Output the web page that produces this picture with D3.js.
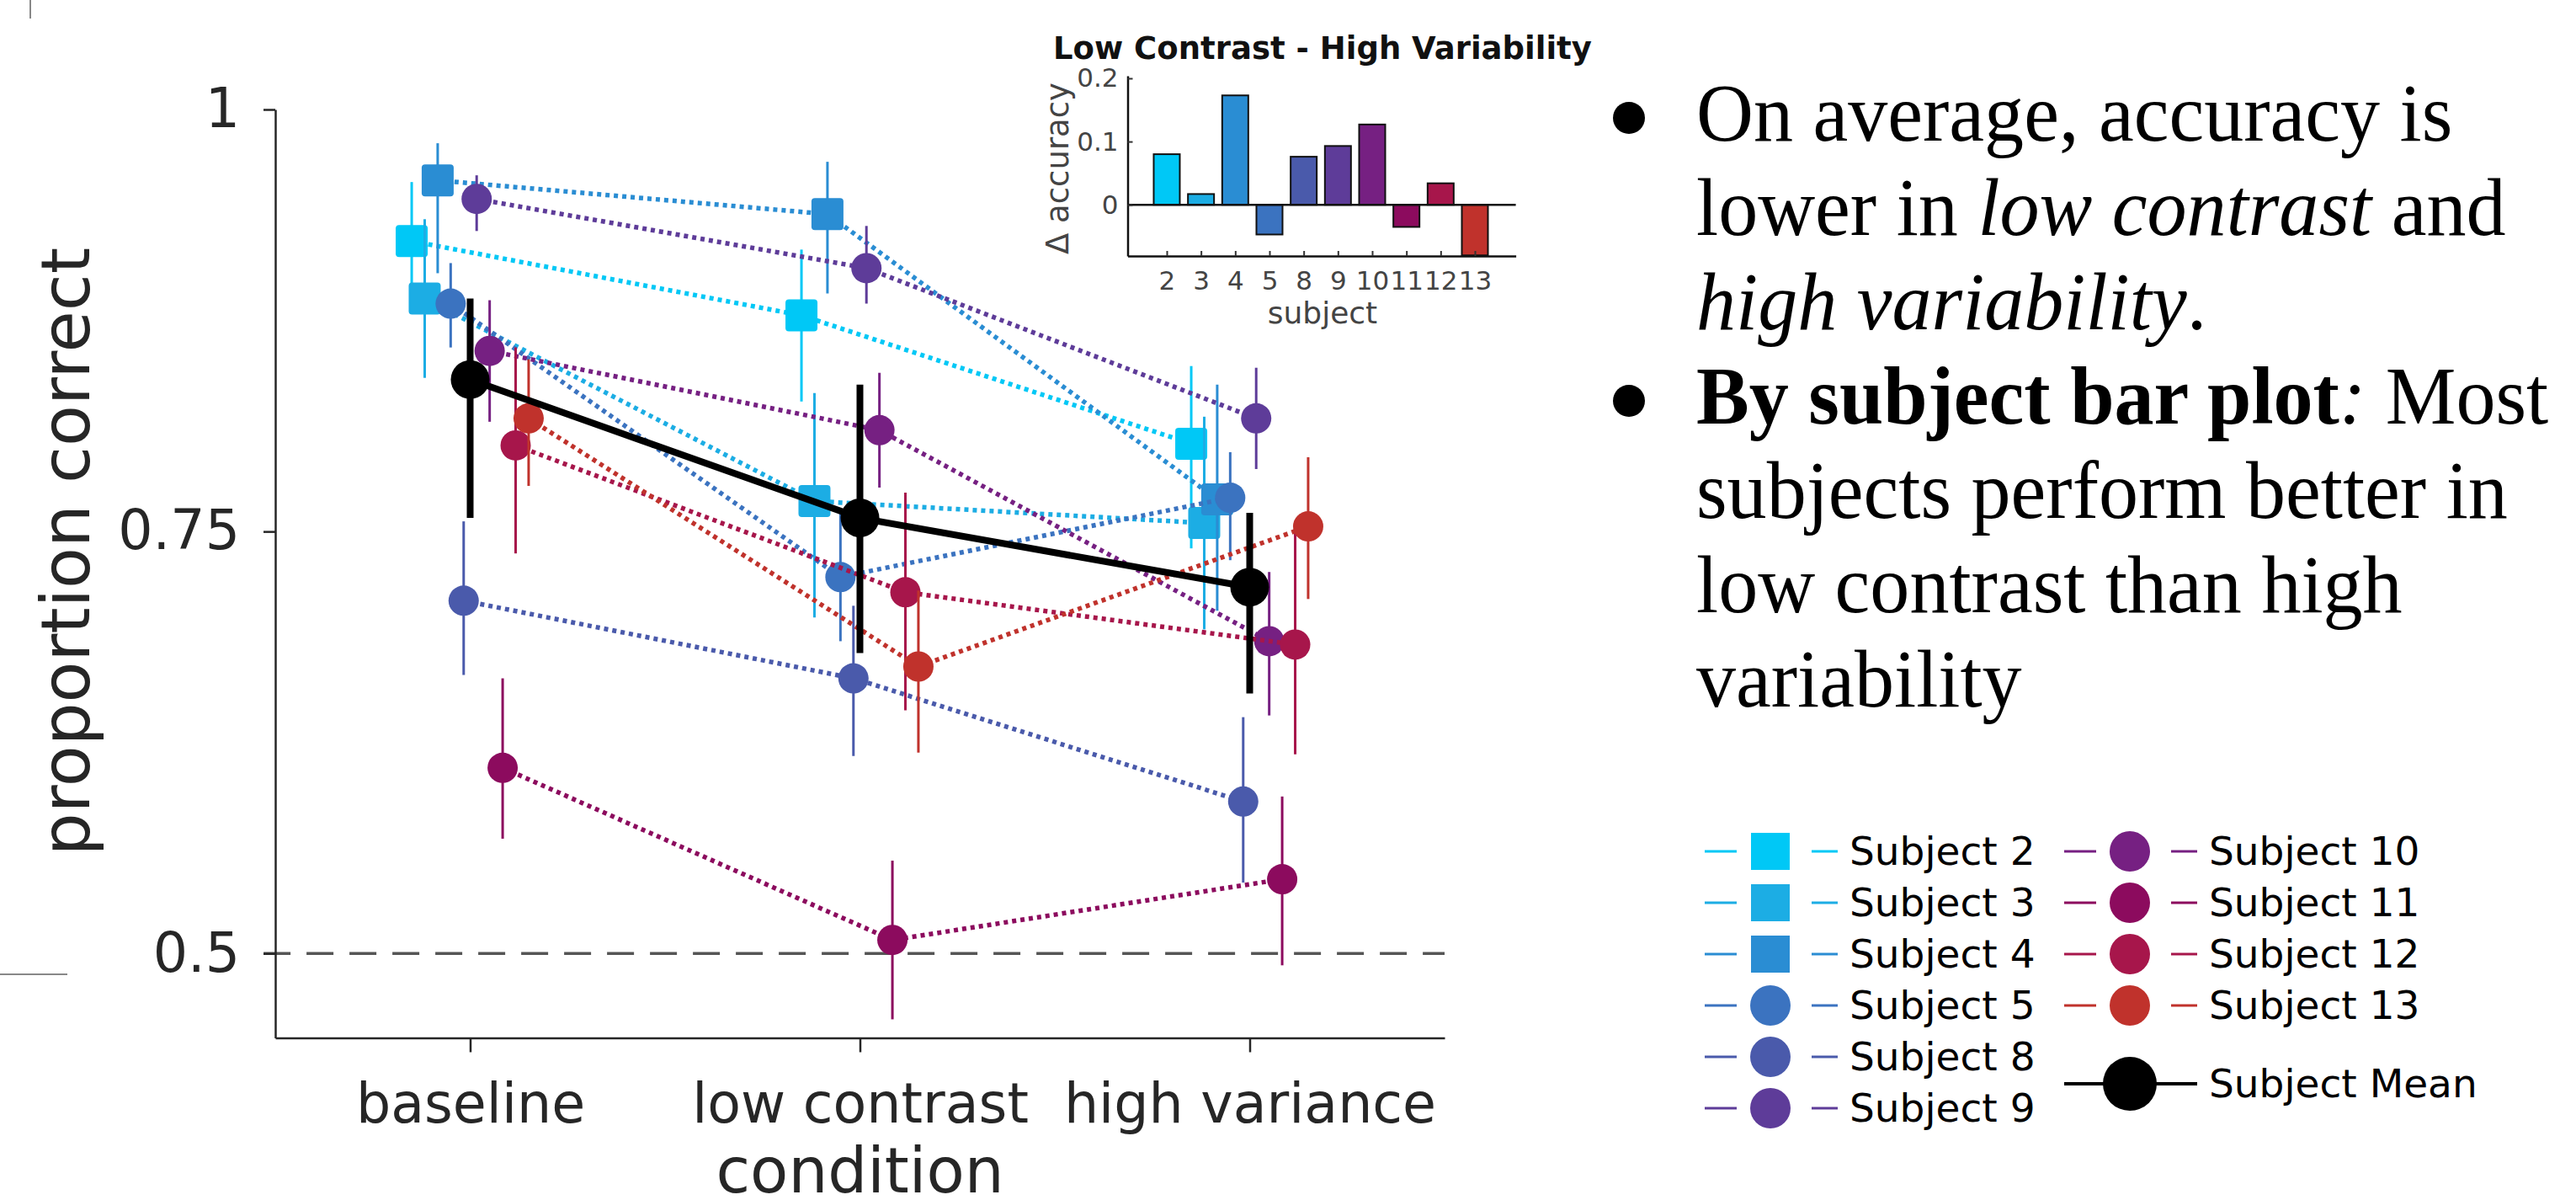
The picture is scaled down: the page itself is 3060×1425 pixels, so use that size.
<!DOCTYPE html>
<html>
<head>
<meta charset="utf-8">
<script src="https://cdn.jsdelivr.net/npm/d3@7"></script>
<style>
  body { margin: 0; background: #fff; }
  svg { display: block; font-family: "DejaVu Sans", sans-serif; }
  text { white-space: pre; }
</style>
</head>
<body>
<svg id="chart" width="3060" height="1425"></svg>
<script>
// conditions on the main x axis
const conditions = ['baseline', 'low contrast', 'high variance'];

const subjects = ['Subject 2', 'Subject 3', 'Subject 4', 'Subject 5', 'Subject 8',
  'Subject 9', 'Subject 10', 'Subject 11', 'Subject 12', 'Subject 13'];
const subjectColors = ['#00c8f6', '#1cade4', '#2a8dd3', '#3b73c0', '#4a5aab',
  '#5e3c99', '#762082', '#8c0b5e', '#a7164b', '#c0322c'];
const subjectShapes = ['square', 'square', 'square', 'circle', 'circle',
  'circle', 'circle', 'circle', 'circle', 'circle'];

// proportion correct per subject: [baseline, low contrast, high variance]
const accuracy = [
  [0.922, 0.878, 0.802],
  [0.888, 0.768, 0.755],
  [0.958, 0.938, 0.769],
  [0.885, 0.723, 0.770],
  [0.709, 0.663, 0.590],
  [0.947, 0.906, 0.817],
  [0.857, 0.810, 0.685],
  [0.610, 0.508, 0.544],
  [0.801, 0.714, 0.683],
  [0.817, 0.670, 0.753]
];
// lower / upper ends of the error bars
const accuracyLow = [
  [0.887, 0.827, 0.740],
  [0.841, 0.699, 0.692],
  [0.903, 0.891, 0.703],
  [0.859, 0.685, 0.733],
  [0.665, 0.617, 0.542],
  [0.928, 0.885, 0.787],
  [0.815, 0.776, 0.641],
  [0.568, 0.461, 0.493],
  [0.737, 0.644, 0.618],
  [0.777, 0.619, 0.710]
];
const accuracyHigh = [
  [0.957, 0.917, 0.848],
  [0.935, 0.832, 0.818],
  [0.980, 0.969, 0.837],
  [0.909, 0.761, 0.797],
  [0.756, 0.706, 0.640],
  [0.961, 0.931, 0.847],
  [0.887, 0.844, 0.726],
  [0.663, 0.555, 0.593],
  [0.859, 0.773, 0.752],
  [0.852, 0.715, 0.794]
];

const meanAccuracy = [0.840, 0.758, 0.717];
const meanLow = [0.758, 0.678, 0.654];
const meanHigh = [0.888, 0.837, 0.761];

const yTicks = [0.5, 0.75, 1];
const yTickLabels = ['0.5', '0.75', '1'];

// inset: low contrast minus high variability
const insetSubjects = ['2', '3', '4', '5', '8', '9', '10', '11', '12', '13'];
const deltaAccuracy = [0.080, 0.017, 0.173, -0.047, 0.076, 0.093, 0.127, -0.035, 0.034, -0.080];
const insetTicks = [0, 0.1, 0.2];
const insetTickLabels = ['0', '0.1', '0.2'];

const notes = [
  { bullet: true, parts: [['On average, accuracy is', 'normal']] },
  { parts: [['lower in ', 'normal'], ['low contrast', 'italic'], [' and', 'normal']] },
  { parts: [['high variability', 'italic'], ['.', 'normal']] },
  { bullet: true, parts: [['By subject bar plot', 'bold'], [':', 'italic'], [' Most', 'normal']] },
  { parts: [['subjects perform better in', 'normal']] },
  { parts: [['low contrast than high', 'normal']] },
  { parts: [['variability', 'normal']] }
];

const svg = d3.select('#chart');
svg.append('rect').attr('width', 3060).attr('height', 1425).attr('fill', '#fff');

// slide edge marks
svg.append('line').attr('x1', 36).attr('x2', 36).attr('y1', 0).attr('y2', 22)
  .attr('stroke', '#888').attr('stroke-width', 2);
svg.append('line').attr('x1', 0).attr('x2', 80).attr('y1', 1157).attr('y2', 1157)
  .attr('stroke', '#888').attr('stroke-width', 2);

// ---------- main chart ----------
const x = d3.scaleLinear().domain([0.5, 3.5]).range([327, 1716]);
const y = d3.scaleLinear().domain([0.45, 1]).range([1232.5, 130]);
const jitter = d3.scaleLinear().domain([0, subjects.length - 1]).range([-0.15, 0.15]);

// chance level
svg.append('line')
  .attr('x1', x(0.47)).attr('x2', x(3.5))
  .attr('y1', y(0.5)).attr('y2', y(0.5))
  .attr('stroke', '#555').attr('stroke-width', 3.5)
  .attr('stroke-dasharray', '32 19');

const yAxis = svg.append('g')
  .attr('transform', `translate(${x(0.5)},0)`)
  .call(d3.axisLeft(y).tickValues(yTicks).tickFormat((d, i) => yTickLabels[i])
    .tickSize(14).tickPadding(28).tickSizeOuter(0));

const xAxis = svg.append('g')
  .attr('transform', `translate(0,${y(0.45)})`)
  .call(d3.axisBottom(x).tickValues([1, 2, 3]).tickFormat(d => conditions[d - 1])
    .tickSize(17).tickPadding(37).tickSizeOuter(0));

[yAxis, xAxis].forEach(g => {
  g.select('.domain').attr('stroke', '#262626').attr('stroke-width', 2.5);
  g.selectAll('.tick line').attr('stroke', '#262626').attr('stroke-width', 2.5);
  g.selectAll('.tick text').attr('fill', '#262626')
    .attr('font-family', '"DejaVu Sans", sans-serif').attr('font-size', 65);
});

svg.append('text')
  .attr('transform', `translate(106,655) rotate(-90)`)
  .attr('text-anchor', 'middle')
  .attr('font-size', 80).attr('fill', '#262626')
  .text('proportion correct');

svg.append('text')
  .attr('x', x(2)).attr('y', 1416)
  .attr('text-anchor', 'middle')
  .attr('font-size', 74).attr('fill', '#262626')
  .text('condition');

const line = d3.line()
  .x(d => x(d.cond + 1 + d.off))
  .y(d => y(d.v));

subjects.forEach((name, i) => {
  const color = subjectColors[i];
  const pts = accuracy[i].map((v, j) => ({
    cond: j, off: jitter(i), v, lo: accuracyLow[i][j], hi: accuracyHigh[i][j]
  }));
  const g = svg.append('g');

  g.append('path')
    .attr('d', line(pts))
    .attr('fill', 'none')
    .attr('stroke', color)
    .attr('stroke-width', 5.5)
    .attr('stroke-dasharray', '5 5');

  g.selectAll('line.err')
    .data(pts)
    .enter()
    .append('line')
    .attr('class', 'err')
    .attr('x1', d => x(d.cond + 1 + d.off))
    .attr('x2', d => x(d.cond + 1 + d.off))
    .attr('y1', d => y(d.lo))
    .attr('y2', d => y(d.hi))
    .attr('stroke', color)
    .attr('stroke-width', 3);

  if (subjectShapes[i] === 'square') {
    g.selectAll('rect.mk')
      .data(pts)
      .enter()
      .append('rect')
      .attr('class', 'mk')
      .attr('x', d => x(d.cond + 1 + d.off) - 19)
      .attr('y', d => y(d.v) - 19)
      .attr('width', 38)
      .attr('height', 38)
      .attr('rx', 4)
      .attr('fill', color);
  } else {
    g.selectAll('circle.mk')
      .data(pts)
      .enter()
      .append('circle')
      .attr('class', 'mk')
      .attr('cx', d => x(d.cond + 1 + d.off))
      .attr('cy', d => y(d.v))
      .attr('r', 18)
      .attr('fill', color);
  }
});

// subject mean
const meanPts = meanAccuracy.map((v, j) => ({ cond: j, off: 0, v, lo: meanLow[j], hi: meanHigh[j] }));
const mg = svg.append('g');
mg.append('path')
  .attr('d', line(meanPts))
  .attr('fill', 'none')
  .attr('stroke', '#000')
  .attr('stroke-width', 8);
mg.selectAll('line.err')
  .data(meanPts)
  .enter()
  .append('line')
  .attr('x1', d => x(d.cond + 1))
  .attr('x2', d => x(d.cond + 1))
  .attr('y1', d => y(d.lo))
  .attr('y2', d => y(d.hi))
  .attr('stroke', '#000')
  .attr('stroke-width', 8);
mg.selectAll('circle')
  .data(meanPts)
  .enter()
  .append('circle')
  .attr('cx', d => x(d.cond + 1))
  .attr('cy', d => y(d.v))
  .attr('r', 23)
  .attr('fill', '#000');

// ---------- inset bar chart ----------
const xi = d3.scaleLinear().domain([-0.143, 11.195]).range([1339.5, 1800.6]);
const yi = d3.scaleLinear().domain([-0.081, 0.204]).range([304, 90]);
const inset = svg.append('g');

inset.selectAll('rect')
  .data(deltaAccuracy)
  .enter()
  .append('rect')
  .attr('x', (d, i) => xi(i + 1) - 15.5)
  .attr('y', d => yi(Math.max(0, d)))
  .attr('width', 31)
  .attr('height', d => Math.abs(yi(d) - yi(0)))
  .attr('fill', (d, i) => subjectColors[i])
  .attr('stroke', '#111')
  .attr('stroke-width', 2);

inset.append('line')
  .attr('x1', xi.range()[0]).attr('x2', xi.range()[1])
  .attr('y1', yi(0)).attr('y2', yi(0))
  .attr('stroke', '#111').attr('stroke-width', 2.5);

const iy = inset.append('g')
  .attr('transform', `translate(${xi.range()[0]},0)`)
  .call(d3.axisLeft(yi).tickValues(insetTicks).tickFormat((d, i) => insetTickLabels[i])
    .tickSize(-6).tickPadding(11).tickSizeOuter(0));
const ix = inset.append('g')
  .attr('transform', `translate(0,${yi.range()[0]})`)
  .call(d3.axisBottom(xi).tickValues(d3.range(1, 11)).tickFormat(d => insetSubjects[d - 1])
    .tickSize(-6).tickPadding(18).tickSizeOuter(0));
[iy, ix].forEach(g => {
  g.select('.domain').attr('stroke', '#111').attr('stroke-width', 2.5);
  g.selectAll('.tick line').attr('stroke', '#333').attr('stroke-width', 2);
  g.selectAll('.tick text').attr('fill', '#444')
    .attr('font-family', '"DejaVu Sans", sans-serif').attr('font-size', 31);
});

inset.append('text')
  .attr('x', 1571).attr('y', 70)
  .attr('text-anchor', 'middle')
  .attr('font-size', 37).attr('font-weight', 'bold').attr('fill', '#111')
  .text('Low Contrast - High Variability');
inset.append('text')
  .attr('transform', 'translate(1269,200) rotate(-90)')
  .attr('text-anchor', 'middle')
  .attr('font-size', 37).attr('fill', '#444')
  .text('Δ accuracy');
inset.append('text')
  .attr('x', 1571).attr('y', 384)
  .attr('text-anchor', 'middle')
  .attr('font-size', 36).attr('fill', '#444')
  .text('subject');

// ---------- legend ----------
const legendItems = subjects.map((name, i) => ({
  name, color: subjectColors[i], shape: subjectShapes[i],
  col: i < 6 ? 0 : 1, row: i < 6 ? i : i - 6
}));
const colX = [2103, 2530];
const rowY = k => 1011 + k * 61;
const legend = svg.append('g');

legendItems.forEach(it => {
  const cx = colX[it.col], cy = rowY(it.row);
  const g = legend.append('g');
  [[-78, -40], [49, 80]].forEach(([a, b]) => {
    g.append('line').attr('x1', cx + a).attr('x2', cx + b)
      .attr('y1', cy).attr('y2', cy)
      .attr('stroke', it.color).attr('stroke-width', 3);
  });
  if (it.shape === 'square') {
    g.append('rect').attr('x', cx - 23).attr('y', cy - 22)
      .attr('width', 46).attr('height', 44).attr('fill', it.color);
  } else {
    g.append('circle').attr('cx', cx).attr('cy', cy).attr('r', 24).attr('fill', it.color);
  }
  g.append('text').attr('x', cx + 94).attr('y', cy).attr('dy', '0.35em')
    .attr('font-size', 47).attr('fill', '#000').text(it.name);
});

const meanY = 1287;
legend.append('line').attr('x1', colX[1] - 78).attr('x2', colX[1] + 80)
  .attr('y1', meanY).attr('y2', meanY).attr('stroke', '#000').attr('stroke-width', 4);
legend.append('circle').attr('cx', colX[1]).attr('cy', meanY).attr('r', 32).attr('fill', '#000');
legend.append('text').attr('x', colX[1] + 94).attr('y', meanY).attr('dy', '0.35em')
  .attr('font-size', 47).attr('fill', '#000').text('Subject Mean');

// ---------- notes ----------
const noteG = svg.append('g')
  .attr('font-family', '"Liberation Serif", "Times New Roman", serif')
  .attr('font-size', 98).attr('fill', '#000');
notes.forEach((n, k) => {
  const by = 167 + k * 112;
  if (n.bullet) {
    noteG.append('circle').attr('cx', 1935).attr('cy', by - 27).attr('r', 19).attr('fill', '#000');
  }
  // the slide text is slightly condensed
  const t = noteG.append('text').attr('transform', `translate(2015,${by}) scale(0.96,1)`);
  n.parts.forEach(([s, style]) => {
    t.append('tspan')
      .attr('font-style', style === 'italic' ? 'italic' : 'normal')
      .attr('font-weight', style === 'bold' ? 'bold' : 'normal')
      .text(s);
  });
});
</script>
</body>
</html>
